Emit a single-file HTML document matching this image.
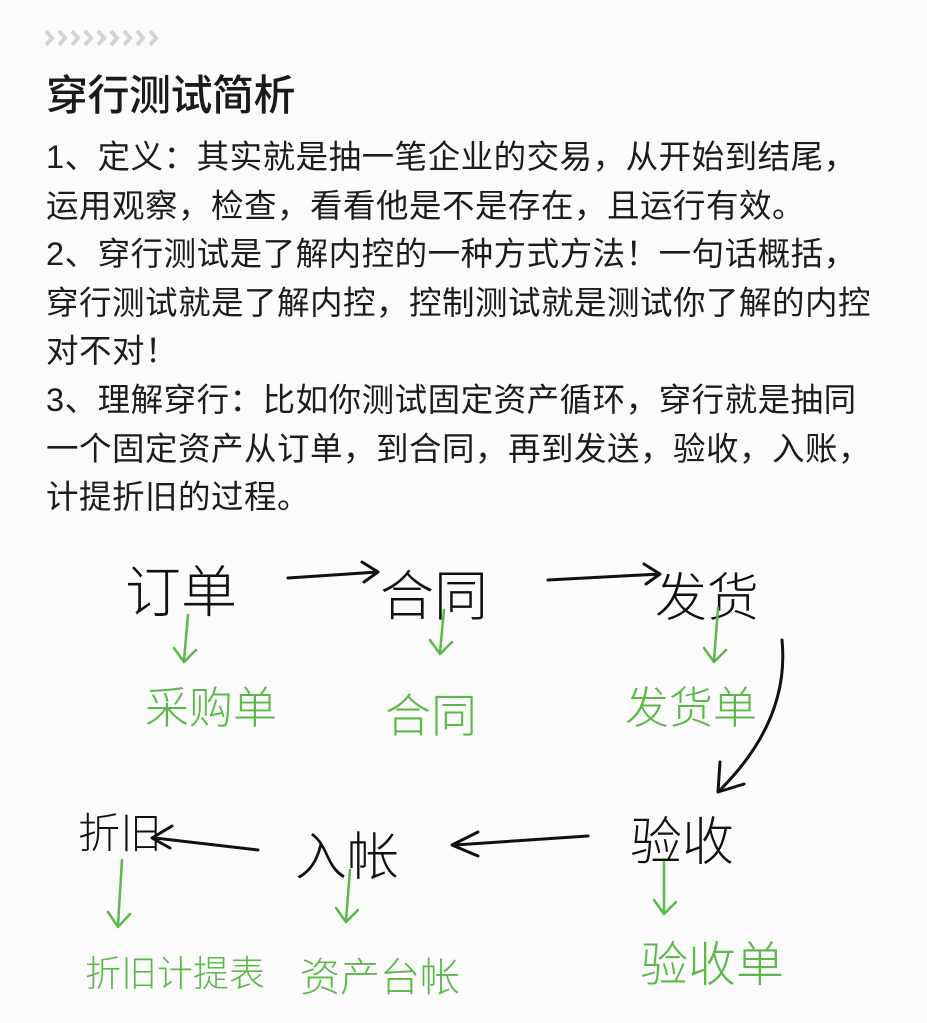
<!DOCTYPE html>
<html><head><meta charset="utf-8"><style>
body{margin:0;width:927px;height:1023px;background:#fbfbfb;overflow:hidden;position:relative;font-family:"Liberation Sans","Noto Sans CJK SC",sans-serif;}
h1{position:absolute;left:46px;top:62px;margin:0;font-size:42px;font-weight:500;color:#1a1a1a;letter-spacing:-0.5px}
.p{position:absolute;left:46px;top:133px;font-size:32.5px;line-height:48.6px;color:#1c1c1c;width:900px;white-space:nowrap;letter-spacing:0.5px}
.h{position:absolute;font-family:"WenQuanYi Zen Hei","Noto Sans CJK SC",sans-serif;font-weight:300;white-space:nowrap}
.k{color:#111}
.g{color:#5cb84a}
</style></head><body>
<svg width="130" height="30" style="position:absolute;left:40px;top:24px" fill="none" stroke="#d4d4d4" stroke-width="4">
<path d="M6 7 L12 14 L6 21 M19 7 L25 14 L19 21 M32 7 L38 14 L32 21 M45 7 L51 14 L45 21 M58 7 L64 14 L58 21 M71 7 L77 14 L71 21 M84 7 L90 14 L84 21 M97 7 L103 14 L97 21 M110 7 L116 14 L110 21"/>
</svg>
<h1>穿行测试简析</h1>
<div class="p">1、定义：其实就是抽一笔企业的交易，从开始到结尾，<br>运用观察，检查，看看他是不是存在，且运行有效。<br>2、穿行测试是了解内控的一种方式方法！一句话概括，<br>穿行测试就是了解内控，控制测试就是测试你了解的内控<br>对不对！<br>3、理解穿行：比如你测试固定资产循环，穿行就是抽同<br>一个固定资产从订单，到合同，再到发送，验收，入账，<br>计提折旧的过程。</div>
<div class="h k" style="left:125px;top:548px;font-size:56px">订单</div>
<div class="h k" style="left:380px;top:552px;font-size:54px">合同</div>
<div class="h k" style="left:655px;top:556px;font-size:52px">发货</div>
<div class="h g" style="left:145px;top:672px;font-size:44px">采购单</div>
<div class="h g" style="left:385px;top:680px;font-size:46px">合同</div>
<div class="h g" style="left:625px;top:672px;font-size:44px">发货单</div>
<div class="h k" style="left:630px;top:800px;font-size:52px">验收</div>
<div class="h k" style="left:295px;top:815px;font-size:52px">入帐</div>
<div class="h k" style="left:78px;top:800px;font-size:42px">折旧</div>
<div class="h g" style="left:85px;top:945px;font-size:36px">折旧计提表</div>
<div class="h g" style="left:300px;top:945px;font-size:40px">资产台帐</div>
<div class="h g" style="left:640px;top:925px;font-size:48px">验收单</div>
<svg width="927" height="1023" style="position:absolute;left:0;top:0" fill="none" stroke-width="3" stroke-linecap="round" stroke-linejoin="round">
<g stroke="#111">
<path d="M288 578 L378 572 M362 562 L378 572 L364 582"/>
<path d="M548 580 L660 574 M644 564 L660 574 L646 584"/>
<path d="M782 640 Q790 720 720 790 M720 762 L718 792 L744 784"/>
<path d="M588 836 L455 845 M478 832 L452 845 L478 856"/>
<path d="M258 850 L155 838 M172 826 L152 838 L170 848"/>
</g>
<g stroke="#5cb84a" stroke-width="2.5">
<path d="M188 615 L184 660 M174 648 L184 662 L196 650"/>
<path d="M444 610 L440 652 M430 640 L440 654 L452 642"/>
<path d="M718 608 L714 660 M704 648 L714 662 L726 650"/>
<path d="M122 860 L118 925 M108 912 L118 927 L130 914"/>
<path d="M350 870 L346 920 M336 908 L346 922 L358 910"/>
<path d="M664 862 L664 912 M654 900 L664 914 L676 902"/>
</g>
</svg>
</body></html>
